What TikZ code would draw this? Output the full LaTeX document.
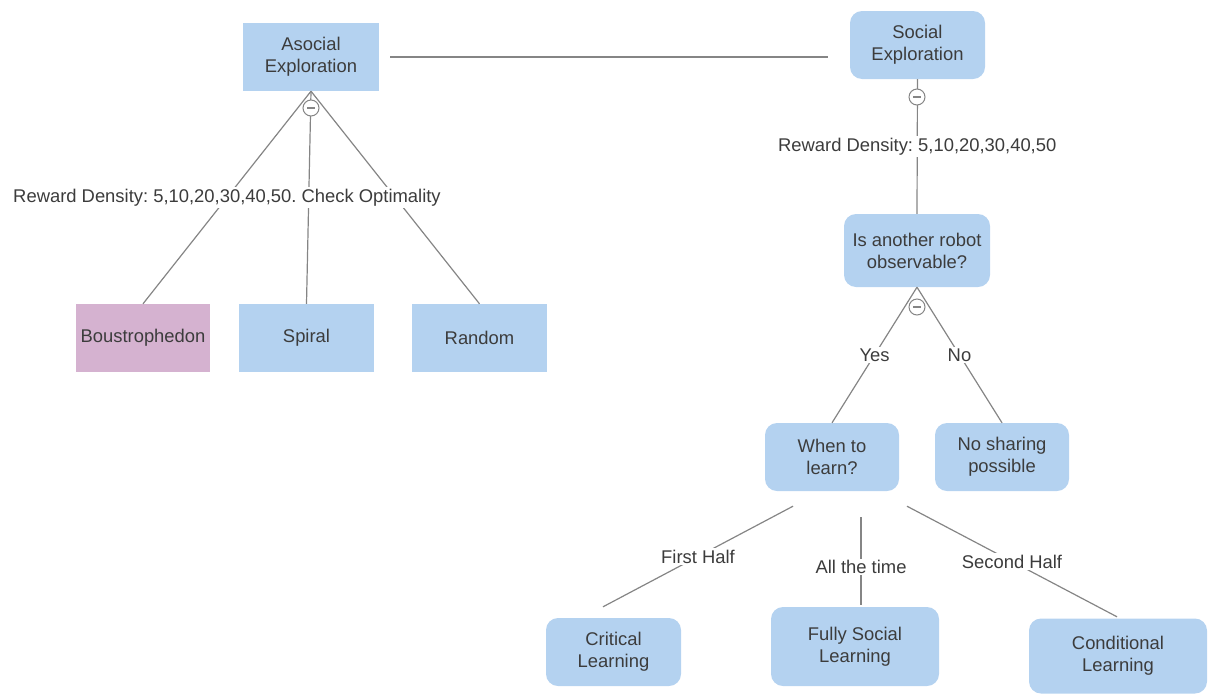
\documentclass[tikz,border=0pt]{standalone}
\usepackage{fontspec}
\setmainfont{Liberation Sans}
\definecolor{boxblue}{HTML}{B4D2F0}
\definecolor{boxpink}{HTML}{D5B2D0}
\definecolor{txt}{HTML}{3C3C3C}
\definecolor{linegray}{HTML}{858585}
\frenchspacing
\begin{document}
\begin{tikzpicture}[x=1pt,y=-1pt,
  box/.style={fill=boxblue, draw=none, minimum width=136pt, minimum height=68pt,
    align=center, text=txt, font=\fontsize{18.4}{22}\selectfont, inner sep=0pt},
  rbox/.style={box, rounded corners=12pt},
  conn/.style={draw=linegray, line width=1.2pt},
  lab/.style={fill=white, text=txt, font=\fontsize{18.4}{22}\selectfont, inner sep=1.5pt},
  collapse/.style={circle, draw=linegray, fill=white, line width=1pt, minimum size=16pt, inner sep=0pt}]
\useasboundingbox (0,0) rectangle (1208,694);

% nodes
\node[box] (asocial) at (311,57) {Asocial\\Exploration};
\node[rbox, minimum width=135pt] (social) at (917.5,45) {Social\\Exploration};
\node[rbox, minimum width=146pt, minimum height=73pt] (robot) at (917,250.5) {Is another robot\\observable?};
\node[box, fill=boxpink, minimum width=134pt] (boustro) at (143,338) {Boustrophedon};
\node[box, minimum width=135pt] (spiral) at (306.5,338) {Spiral};
\node[box, minimum width=135pt] (random) at (479.5,338) {Random};
\node[rbox, minimum width=134pt] (when) at (832,457) {When to\\learn?};
\node[rbox, minimum width=134pt] (nosharing) at (1002,457) {No sharing\\possible};
\node[rbox, minimum width=135pt] (critical) at (613.5,652) {Critical\\Learning};
\node[rbox, minimum width=168pt, minimum height=79pt] (fully) at (855,646.5) {Fully Social\\Learning};
\node[rbox, minimum width=178pt, minimum height=75pt] (conditional) at (1118,656) {Conditional\\Learning};

% connectors
\draw[conn] ([xshift=11pt]asocial.east) -- ([xshift=-22pt]social.west |- asocial.east);
\draw[conn] (asocial.south) -- (boustro.north);
\draw[conn] (asocial.south) -- (spiral.north);
\draw[conn] (asocial.south) -- (random.north);
\draw[conn] (social.south) -- node[lab] (rd2) {Reward Density: 5,10,20,30,40,50} (robot.north);
\draw[conn] (robot.south) -- node[lab] (yes) {Yes} (when.north);
\draw[conn] (robot.south) -- node[lab] (no) {No} (nosharing.north);

\coordinate (w1) at ([shift={(-39,15)}]when.south);
\coordinate (w2) at ([shift={(29,26)}]when.south);
\coordinate (w3) at ([shift={(75,15)}]when.south);
\coordinate (e1) at ([shift={(-10.5,-11)}]critical.north);
\coordinate (e2) at ([shift={(6,-2)}]fully.north);
\coordinate (e3) at ([shift={(-1,-1.5)}]conditional.north);
\draw[conn] (w1) -- node[lab] (fh) {First Half} (e1);
\draw[conn] (w2) -- node[lab, pos=0.57] (att) {All the time} (e2);
\draw[conn] (w3) -- node[lab] (sh) {Second Half} (e3);

\path (asocial.south) -- node[lab] (rd1) {Reward Density: 5,10,20,30,40,50. Check Optimality} (boustro.north);

% collapse markers
\node[collapse] (c1) at (311,108) {};
\draw[linegray, line width=1.2pt] ([xshift=-4pt]c1.center) -- ([xshift=4pt]c1.center);
\node[collapse] (c2) at (917,97) {};
\draw[linegray, line width=1.2pt] ([xshift=-4pt]c2.center) -- ([xshift=4pt]c2.center);
\node[collapse] (c3) at (917,307) {};
\draw[linegray, line width=1.2pt] ([xshift=-4pt]c3.center) -- ([xshift=4pt]c3.center);
\end{tikzpicture}
\end{document}
